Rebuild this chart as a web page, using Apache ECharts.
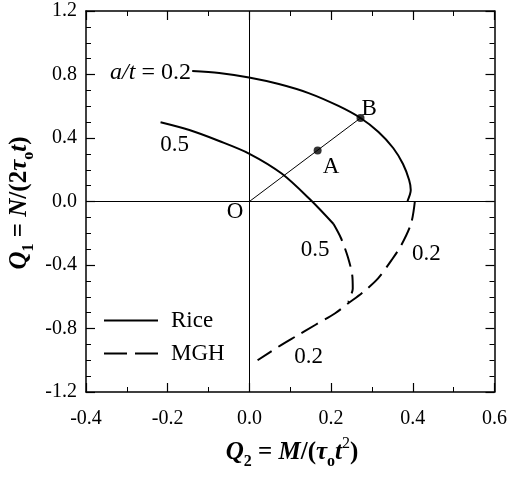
<!DOCTYPE html>
<html><head><meta charset="utf-8">
<script src="https://cdn.jsdelivr.net/npm/echarts@6/dist/echarts.min.js"></script>
<style>html,body{margin:0;padding:0;background:#fff}#c{width:510px;height:479px}</style>
</head><body><div id="c"></div><script>
// Interaction curves: normalised axial force Q1 vs moment Q2
const riceA02 = [[-0.140,0.822],[-0.074,0.809],[-0.001,0.781],[0.072,0.740],[0.145,0.683],[0.218,0.602],[0.272,0.526],[0.316,0.438],[0.352,0.337],[0.376,0.236],[0.391,0.135],[0.395,0.072],[0.387,0.003]];
const riceA05 = [[-0.2175,0.499],[-0.147,0.450],[-0.074,0.381],[-0.001,0.302],[0.079,0.176],[0.150,0.009],[0.206,-0.142]];
const mghA02 = [[0.405,0.0],[0.396,-0.137],[0.372,-0.274],[0.348,-0.369],[0.315,-0.484],[0.275,-0.578],[0.242,-0.641],[0.210,-0.704],[0.161,-0.778],[0.112,-0.852],[0.071,-0.915],[0.02,-1.0]];
const mghA05 = [[0.206,-0.142],[0.224,-0.23],[0.241,-0.35],[0.252,-0.47],[0.253,-0.55],[0.247,-0.60],[0.242,-0.633]];
const pointA = [0.167,0.322];
const pointB = [0.272,0.526];
const xTicks = [-0.4,-0.2,0.0,0.2,0.4,0.6];
const yTicks = [-1.2,-0.8,-0.4,0.0,0.4,0.8,1.2];

const SERIF = '"Liberation Serif","DejaVu Serif",serif';
const chart = echarts.init(document.getElementById('c'));

function axis(pos, ticks, step, minorSplit, label) {
  return {
    type: 'value', position: pos, min: ticks[0], max: ticks[ticks.length - 1], interval: step,
    axisLine: {show: true, onZero: false, lineStyle: {color: '#000', width: 1.5}},
    axisTick: {show: true, inside: true, length: 9, lineStyle: {color: '#000', width: 1.2}},
    minorTick: {show: true, splitNumber: minorSplit, length: 5, lineStyle: {color: '#000', width: 1}},
    splitLine: {show: false},
    axisLabel: label ? Object.assign({formatter: v => v.toFixed(1), color: '#000', fontFamily: SERIF, fontSize: 20}, label) : {show: false}
  };
}
const noDot = {color: 'rgba(0,0,0,0)', borderWidth: 0};

chart.setOption({
  animation: false,
  backgroundColor: '#fff',
  grid: {left: 86, right: 13, top: 11, bottom: 87},
  xAxis: [axis('bottom', xTicks, 0.2, 2, {margin: 17}), axis('top', xTicks, 0.2, 2, null)],
  yAxis: [axis('left', yTicks, 0.4, 4, {margin: 9}), axis('right', yTicks, 0.4, 4, null)],
  legend: {
    orient: 'vertical', left: 103, top: 309, padding: 0, itemWidth: 54, itemHeight: 14, itemGap: 10,
    itemStyle: noDot,
    data: [{name: 'Rice'}, {name: 'MGH', lineStyle: {type: [23, 8]}}],
    textStyle: {color: '#000', fontFamily: SERIF, fontSize: 23, padding: [0, 0, 0, 8]}
  },
  series: [
    {name: 'Rice', type: 'line', data: riceA02, smooth: 0.3, symbol: 'none', itemStyle: noDot,
     lineStyle: {color: '#000', width: 2, type: 'solid'},
     markLine: {silent: true, symbol: 'none', label: {show: false},
       lineStyle: {color: '#000', width: 1, type: 'solid'},
       data: [{xAxis: 0}, {yAxis: 0}]}},
    {name: 'Rice', type: 'line', data: riceA05, smooth: 0.3, symbol: 'none', itemStyle: noDot,
     lineStyle: {color: '#000', width: 2, type: 'solid'}},
    {name: 'MGH', type: 'line', data: mghA02, smooth: 0.3, symbol: 'none', itemStyle: noDot,
     lineStyle: {color: '#000', width: 2, type: [19, 8]}},
    {name: 'MGH', type: 'line', data: mghA05, smooth: 0.3, symbol: 'none', itemStyle: noDot,
     lineStyle: {color: '#000', width: 2, type: [19, 8]}},
    {name: 'OB', type: 'line', data: [[0, 0], pointB], symbol: 'none',
     lineStyle: {color: '#000', width: 1}},
    {name: 'points', type: 'scatter', data: [pointA, pointB], symbol: 'circle', symbolSize: 8,
     itemStyle: {color: '#000'}, z: 5}
  ]
});

// annotation texts positioned in data coordinates
function px(p) { return chart.convertToPixel({xAxisIndex: 0, yAxisIndex: 0}, p); }
function ann(text, p) {
  const q = px(p);
  return {type: 'text', x: q[0], y: q[1], z: 10,
    style: {text: text, align: 'center', verticalAlign: 'middle', fontFamily: SERIF, fontSize: 23, fill: '#000'}};
}
const labels = [
  ['0.5', [-0.183, 0.355]],
  ['A', [0.20, 0.217]],
  ['B', [0.293, 0.583]],
  ['O', [-0.035, -0.066]],
  ['0.5', [0.161, -0.306]],
  ['0.2', [0.433, -0.331]],
  ['0.2', [0.145, -0.981]]
];
const graphics = labels.map(l => ann(l[0], l[1]));
const atPos = px([-0.143, 0.81]);
graphics.push({type: 'text', x: atPos[0], y: atPos[1], z: 10,
  style: {text: '{i|a/t}{n| = 0.2}', align: 'right', verticalAlign: 'middle',
    rich: {i: {fontFamily: SERIF, fontSize: 24, fontStyle: 'italic', fill: '#000'},
           n: {fontFamily: SERIF, fontSize: 24, fill: '#000'}}}});

// axis titles with sub/superscripts
const titleRich = {
  bi: {fontFamily: SERIF, fontSize: 25, fontStyle: 'italic', fontWeight: 'bold', fill: '#000', lineHeight: 34, verticalAlign: 'middle'},
  b: {fontFamily: SERIF, fontSize: 25, fontWeight: 'bold', fill: '#000', lineHeight: 34, verticalAlign: 'middle'},
  sub: {fontFamily: SERIF, fontSize: 16, fontWeight: 'bold', fill: '#000', lineHeight: 16, verticalAlign: 'bottom'},
  sup: {fontFamily: SERIF, fontSize: 16, fill: '#000', lineHeight: 16, verticalAlign: 'top'}
};
graphics.push({type: 'text', x: 292, y: 453, z: 10,
  style: {text: '{bi|Q}{sub|2}{b| = }{bi|M}{b|/(}{bi|τ}{sub|o}{bi|t}{sup|2}{b|)}', align: 'center', verticalAlign: 'middle', rich: titleRich}});
graphics.push({type: 'text', x: 20, y: 203, rotation: Math.PI / 2, z: 10,
  style: {text: '{bi|Q}{sub|1}{b| = }{bi|N}{b|/(2}{bi|τ}{sub|o}{bi|t}{b|)}', align: 'center', verticalAlign: 'middle', rich: titleRich}});

chart.setOption({graphic: graphics});
</script></body></html>
